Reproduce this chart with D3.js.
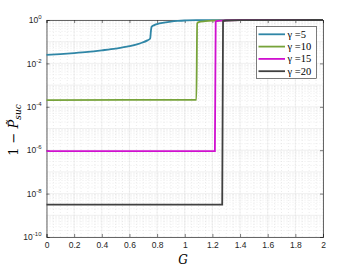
<!DOCTYPE html>
<html>
<head>
<meta charset="utf-8">
<style>
  body { margin: 0; background: #fff; }
  .tick text { font: 8.5px "Liberation Sans", Arial, sans-serif; fill: #262626; }
  .lbl { font-family: "DejaVu Serif", "Liberation Serif", serif; font-style: italic; fill: #000; }
  .leg text { font: 10.5px "Liberation Serif", "DejaVu Serif", serif; fill: #000; }
</style>
<script src="https://d3js.org/d3.v7.min.js"></script>
</head>
<body>
<svg width="357" height="268"></svg>
<script>
// data
var names = ["γ =5", "γ =10", "γ =15", "γ =20"];
var colors = ["#2F86A6", "#77A33A", "#D010CF", "#404040"];
var g5G = [0, 0.1, 0.2, 0.3, 0.4, 0.5, 0.6, 0.68, 0.73, 0.75, 0.755, 0.76, 0.78, 0.8, 0.85, 0.9, 0.95, 1.0, 1.1, 1.2, 1.4, 1.7, 2.0];
var g5V = [0.0245, 0.027, 0.030, 0.034, 0.040, 0.048, 0.062, 0.085, 0.115, 0.14, 0.30, 0.48, 0.58, 0.65, 0.76, 0.85, 0.91, 0.95, 0.98, 0.99, 0.997, 1, 1];
var g10G = [0, 1.084, 1.09, 1.1, 1.15, 1.2, 1.3, 1.4, 2.0];
var g10V = [2.05e-4, 2.1e-4, 0.7, 0.8, 0.88, 0.93, 0.97, 0.99, 1];
var g15G = [0, 1.218, 1.224, 1.24, 1.3, 1.4, 2.0];
var g15V = [9e-7, 9e-7, 0.85, 0.92, 0.97, 0.99, 1];
var g20G = [0, 1.271, 1.277, 1.3, 1.4, 2.0];
var g20V = [3.1e-9, 3.1e-9, 0.9, 0.95, 0.99, 1];
var xTicks = [0, 0.2, 0.4, 0.6, 0.8, 1, 1.2, 1.4, 1.6, 1.8, 2];
var yTickExp = [0, -2, -4, -6, -8, -10];

var seriesG = [g5G, g10G, g15G, g20G];
var seriesV = [g5V, g10V, g15V, g20V];

var svg = d3.select("svg");
var L = 46.5, R = 323, T = 20, B = 237;
var x = d3.scaleLinear().domain([0, 2]).range([L, R]);
var y = d3.scaleLog().domain([1e-10, 1]).range([B, T]);

var grid = svg.append("g");
// minor grid
d3.range(0, 2.0001, 0.05).forEach(function(v) {
  grid.append("line").attr("x1", x(v)).attr("x2", x(v)).attr("y1", T).attr("y2", B)
    .attr("stroke", "#d8d8d8").attr("stroke-width", 0.5).attr("stroke-dasharray", "1,2");
});
for (var e = -10; e < 0; e++) {
  for (var k = 2; k < 10; k++) {
    var yy = y(k * Math.pow(10, e));
    grid.append("line").attr("x1", L).attr("x2", R).attr("y1", yy).attr("y2", yy)
      .attr("stroke", "#d8d8d8").attr("stroke-width", 0.5).attr("stroke-dasharray", "1,2");
  }
}
// major grid
xTicks.forEach(function(v) {
  grid.append("line").attr("x1", x(v)).attr("x2", x(v)).attr("y1", T).attr("y2", B)
    .attr("stroke", "#e6e6e6").attr("stroke-width", 0.6);
});
for (var e2 = -10; e2 <= 0; e2++) {
  var yv = y(Math.pow(10, e2));
  grid.append("line").attr("x1", L).attr("x2", R).attr("y1", yv).attr("y2", yv)
    .attr("stroke", "#e6e6e6").attr("stroke-width", 0.6);
}

// axes
var xAxis = d3.axisBottom(x).tickValues(xTicks).tickSize(-3).tickPadding(5)
  .tickFormat(function(d) { return d; });
svg.append("g").attr("transform", "translate(0," + B + ")").call(xAxis);
svg.append("g").attr("transform", "translate(0," + T + ")")
  .call(d3.axisTop(x).tickValues(xTicks).tickSize(-3).tickFormat(""));

var yAxis = d3.axisLeft(y).tickValues(yTickExp.map(function(p) { return Math.pow(10, p); }))
  .tickSize(-3).tickPadding(5).tickFormat("");
var ya = svg.append("g").attr("transform", "translate(" + L + ",0)").call(yAxis);
ya.selectAll(".tick text").each(function(d) {
  var t = d3.select(this);
  var p = Math.round(Math.log10(d));
  t.append("tspan").text("10");
  t.append("tspan").attr("dy", -4).attr("font-size", "6px").text(p);
});
svg.append("g").attr("transform", "translate(" + R + ",0)")
  .call(d3.axisRight(y).tickValues(yTickExp.map(function(p) { return Math.pow(10, p); })).tickSize(-3).tickFormat(""));

svg.selectAll(".domain").attr("stroke", "#262626").attr("stroke-width", 0.7);
svg.selectAll(".tick line").attr("stroke", "#262626").attr("stroke-width", 0.6);

// curves
var line = d3.line().x(function(d) { return x(d[0]); }).y(function(d) { return y(d[1]); })
  .curve(d3.curveMonotoneX);
var plot = svg.append("g");
seriesG.forEach(function(gs, i) {
  var pts = gs.map(function(g, j) { return [g, seriesV[i][j]]; });
  plot.append("path").attr("d", line(pts)).attr("fill", "none")
    .attr("stroke", colors[i]).attr("stroke-width", 1.8);
});

// legend
var leg = svg.append("g").attr("class", "leg");
leg.append("rect").attr("x", 256.5).attr("y", 26.5).attr("width", 60).attr("height", 52)
  .attr("fill", "#fff").attr("stroke", "#262626").attr("stroke-width", 0.6);
names.forEach(function(n, i) {
  var ly = 34.3 + i * 12.3;
  leg.append("line").attr("x1", 258.5).attr("x2", 285).attr("y1", ly).attr("y2", ly)
    .attr("stroke", colors[i]).attr("stroke-width", 1.8);
  leg.append("text").attr("x", 287.5).attr("y", ly + 3.5).text(n);
});

// axis labels
svg.append("text").attr("class", "lbl").attr("x", 183).attr("y", 264)
  .attr("text-anchor", "middle").attr("font-size", "12px").text("G");
var yl = svg.append("text").attr("class", "lbl")
  .attr("transform", "translate(18,130) rotate(-90)")
  .attr("text-anchor", "middle").attr("font-size", "13px");
yl.append("tspan").attr("font-style", "normal").text("1 − ");
yl.append("tspan").text("P̃");
yl.append("tspan").attr("dy", 3).attr("font-size", "9px").text("suc");
</script>
</body>
</html>
